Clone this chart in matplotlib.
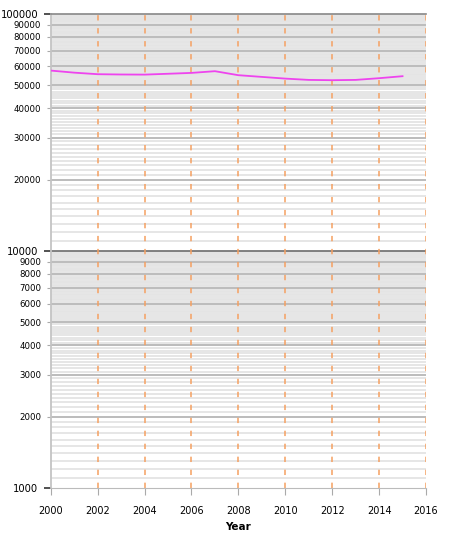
import numpy as np
import matplotlib
matplotlib.use("Agg")
import matplotlib.pyplot as plt
from matplotlib.ticker import FixedLocator, FixedFormatter

# --- data ---
years = [2000, 2001, 2002, 2003, 2004, 2005, 2006, 2007,
         2008, 2009, 2010, 2011, 2012, 2013, 2014, 2015]
values = [57650, 56500, 55660, 55500, 55440, 55900, 56370, 57310,
          55120, 54220, 53330, 52660, 52510, 52660, 53540, 54590]

x_ticks = [2000, 2002, 2004, 2006, 2008, 2010, 2012, 2014, 2016]
dash_years = [2002, 2004, 2006, 2008, 2010, 2012, 2014, 2016]
y_major = [1000, 10000, 100000]
y_minor = [2000, 3000, 4000, 5000, 6000, 7000, 8000, 9000,
           20000, 30000, 40000, 50000, 60000, 70000, 80000, 90000]

fig = plt.figure(figsize=(4.62, 5.40), dpi=100)
ax = fig.add_axes([0.110, 0.0963, 0.812, 0.878])

ax.set_yscale("log")
ax.set_xlim(2000, 2016)
ax.set_ylim(1000, 100000)

# fine grid: every 1/10 of a unit step within each decade
fine = [m * 10**k for k in (3, 4) for m in np.round(np.arange(1.1, 10.0, 0.1), 1)
        if abs(m - round(m)) > 1e-6]
ax.hlines(fine, 2000, 2016, color="#e4e4e4", lw=1.3, zorder=0.5)
ax.hlines(y_minor, 2000, 2016, color="#bcbcbc", lw=1.4, zorder=0.6)
ax.hlines([10000], 2000, 2016, color="#777777", lw=1.3, zorder=0.7)

# dashed year lines
ax.vlines(dash_years, 1000, 100000, color="#f5a061", lw=1.1,
          linestyles=(0, (3.5, 5)), zorder=1)

ax.plot(years, values, color="#ee44ee", lw=1.3, zorder=3)

# ticks
ax.yaxis.set_major_locator(FixedLocator(y_major))
ax.yaxis.set_minor_locator(FixedLocator(y_minor))
ax.set_yticklabels([str(v) for v in y_major], fontsize=7.2)
ax.yaxis.set_minor_formatter(FixedFormatter([str(v) for v in y_minor]))
ax.tick_params(axis="y", which="major", length=5, width=1.2, color="#333333", pad=4)
ax.tick_params(axis="y", which="minor", length=3, width=0.8, color="#aaaaaa",
               pad=4, labelsize=6.2)

ax.set_xticks(x_ticks)
ax.set_xticklabels([str(v) for v in x_ticks], fontsize=7)
ax.tick_params(axis="x", length=5, width=0.8, color="#aaaaaa", pad=8)
ax.set_xlabel("Year", fontsize=7.5, fontweight="bold", labelpad=4)

ax.spines["right"].set_visible(False)
ax.spines["left"].set_color("#c4c4c4")
ax.spines["left"].set_linewidth(1.3)
ax.spines["bottom"].set_color("#bbbbbb")
ax.spines["top"].set_color("#888888")
ax.spines["top"].set_linewidth(1.2)

fig.savefig("out.png", dpi=100)
